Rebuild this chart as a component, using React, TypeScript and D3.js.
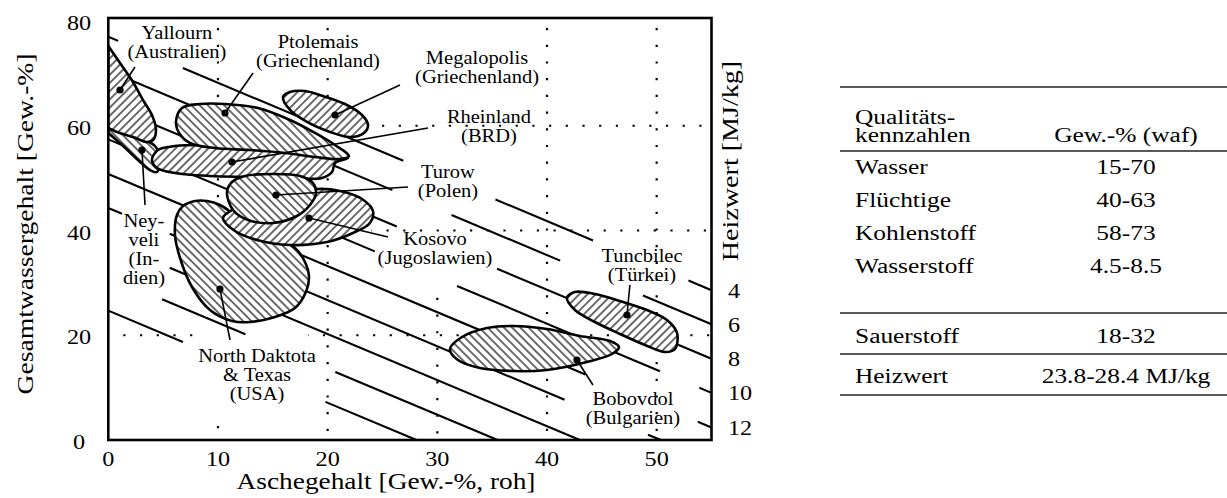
import React from "react";
import * as d3 from "d3";

const FONT = "'Liberation Serif', 'Times New Roman', serif";

// ---------- axes ----------
const ashTicks = [0, 10, 20, 30, 40, 50];
const waterTicks = [0, 20, 40, 60, 80];
const heizwertTicks = [4, 6, 8, 10, 12];

// ---------- Heizwert iso-lines (MJ/kg) ----------
const isoMJ = [4, 6, 8, 10, 12, 14, 16, 18, 20];
// water content [Gew.-%] where each line meets ash = 0
const isoWaterAtZeroAsh = [77.0, 70.5, 63.9, 57.4, 50.8, 44.3, 37.8, 31.2, 24.7];
// slope of the iso-lines (water per ash)
const isoSlope = -0.88;
// visible ash ranges of each line (gaps at the labels)
const isoVisibleAsh = [
  [[0, 0.9], [6.8, 26.9], [35.3, 44.2], [52.9, 55]],
  [[0, 25.9], [31.3, 41.2], [48.75, 55]],
  [[0, 26.3], [35.45, 55]],
  [[0, 24.3], [31.8, 50.3], [53.9, 55]],
  [[0, 43.5], [53.75, 55]],
  [[0, 1.25], [5.6, 41.6], [49.2, 50.4]],
  [[5.6, 43.0]],
  [[4.9, 12.5], [20.7, 35.5]],
  [[0, 6.8], [19.8, 28.1]],
];

// ---------- dotted grid ----------
const gridAsh = [10, 20, 30, 40, 50];
const gridAshWaterRanges = [[[0, 4], [22, 80]], [[0, 80]], [[0, 28.5], [78, 79.2]], [[0, 80]], [[0, 80]]];
const gridWater = [20, 40, 60];
const gridWaterAshRanges = [[[0, 7.8], [18.2, 55]], [[24, 55]], [[17.5, 55]]];

// ---------- deposit regions [ash, water] ----------
const neyveliOutline = [[0, 59.57], [1.52, 58.43], [3.35, 57.28], [4.26, 56.13], [4.71, 53.84], [4.44, 51.17], [3.8, 51.55], [2.71, 53.46], [1.35, 56.13], [0, 58.62]];
const yallournOutline = [[0, 59.57], [0.79, 58.81], [2.25, 57.85], [3.53, 56.9], [4.08, 57.28], [4.35, 59.19], [3.98, 62.05], [3.16, 64.92], [2.25, 68.35], [1.07, 71.98], [0, 75.23]];
const rheinlandOutline = [[3.98, 53.46], [4.53, 55.37], [6.08, 56.13], [9.27, 56.32], [13.83, 55.94], [17.48, 55.18], [20.21, 54.42], [21.85, 53.84], [20.67, 52.89], [20.4, 51.17], [19.48, 50.02], [16.57, 50.02], [12.92, 50.22], [9.27, 50.41], [6.08, 50.98], [4.44, 51.93]];
const ptolemaisOutline = [[6.17, 60.72], [6.72, 63.39], [8.36, 64.15], [10.64, 64.15], [13.65, 63.39], [16.57, 61.1], [18.85, 58.62], [20.67, 56.32], [21.95, 54.23], [21.13, 53.65], [18.85, 54.03], [16.11, 54.8], [12.92, 55.37], [9.73, 55.75], [7.45, 56.71], [6.45, 58.62]];
const megalopolisOutline = [[15.93, 65.49], [16.57, 66.44], [17.93, 66.63], [19.57, 65.68], [21.58, 64.15], [23.13, 62.05], [23.68, 60.14], [23.32, 58.62], [22.04, 57.85], [20.21, 58.81], [18.12, 60.72], [16.57, 63.01]];
const northDakotaOutline = [[6.26, 42.96], [6.81, 44.68], [7.91, 45.63], [9.0, 45.63], [10.18, 44.87], [11.55, 42.96], [13.38, 40.48], [15.2, 38.57], [17.02, 36.66], [17.93, 33.99], [18.3, 31.12], [18.02, 28.26], [17.02, 25.2], [15.2, 23.48], [12.92, 22.53], [11.28, 22.72], [9.27, 24.82], [7.63, 29.21], [6.54, 34.75], [6.08, 39.14]];
const kosovoOutline = [[10.46, 42.39], [11.28, 43.91], [12.92, 44.87], [16.11, 46.59], [19.03, 47.92], [21.13, 47.54], [23.13, 46.01], [24.13, 43.72], [23.86, 41.43], [22.31, 39.52], [19.94, 37.8], [16.57, 37.23], [13.56, 38.19], [11.55, 39.9]];
const turowOutline = [[10.82, 47.35], [11.28, 49.26], [12.46, 50.41], [15.02, 50.79], [17.48, 50.41], [18.66, 49.07], [18.94, 47.16], [18.39, 44.87], [17.2, 42.77], [15.02, 41.43], [12.74, 42.01], [11.37, 43.91]];
const tuncbilecOutline = [[41.82, 27.11], [42.55, 28.26], [44.37, 27.88], [46.65, 26.54], [49.12, 24.82], [50.94, 22.91], [51.86, 20.43], [51.67, 17.37], [50.76, 16.8], [48.93, 18.14], [46.65, 20.24], [44.37, 22.53], [42.55, 24.82]];
const bobovdolOutline = [[31.15, 17.37], [32.25, 19.67], [34.53, 21.38], [36.9, 21.77], [40.0, 21.19], [43.0, 19.86], [45.74, 18.9], [46.56, 17.76], [45.92, 16.42], [43.64, 14.89], [40.0, 13.37], [36.9, 13.17], [33.89, 13.75], [31.88, 15.27]];

// drawing order, hatch direction, whether the region rests on the water axis
const regions = [
  { outline: neyveliOutline, hatch: "B", onAxis: true },
  { outline: yallournOutline, hatch: "F", onAxis: true },
  { outline: rheinlandOutline, hatch: "F", onAxis: false },
  { outline: ptolemaisOutline, hatch: "B", onAxis: false },
  { outline: megalopolisOutline, hatch: "F", onAxis: false },
  { outline: northDakotaOutline, hatch: "B", onAxis: false },
  { outline: kosovoOutline, hatch: "F", onAxis: false },
  { outline: turowOutline, hatch: "B", onAxis: false },
  { outline: tuncbilecOutline, hatch: "F", onAxis: false },
  { outline: bobovdolOutline, hatch: "B", onAxis: false },
];

// ---------- labels: text, anchor [ash, water], leader start, marked point ----------
const annotations = [
  { lines: ["Yallourn", "(Australien)"], at: [6.26, 76.56], from: [2.43, 71.22], dot: [1.07, 66.83] },
  { lines: ["Ptolemais", "(Griechenland)"], at: [19.12, 74.85], from: [13.2, 70.07], dot: [10.64, 62.43] },
  { lines: ["Megalopolis", "(Griechenland)"], at: [33.62, 71.79], from: [26.6, 67.78], dot: [20.67, 62.05] },
  { lines: ["Rheinland", "(BRD)"], at: [34.71, 60.53], from: [29.15, 59.57], dot: [11.28, 53.08] },
  { lines: ["Turow", "(Polen)"], at: [30.97, 50.02], from: [27.33, 48.31], dot: [15.29, 46.78] },
  { lines: ["Kosovo", "(Jugoslawien)"], at: [29.79, 37.23], from: [25.5, 38.76], dot: [18.3, 42.39] },
  { lines: ["Tuncbilec", "(Türkei)"], at: [48.66, 33.99], from: [47.56, 29.59], dot: [47.29, 23.87] },
  { lines: ["Bobovdol", "(Bulgarien)"], at: [47.84, 6.68], from: [44.19, 10.5], dot: [42.73, 15.27] },
  { lines: ["Ney-", "veli", "(In-", "dien)"], at: [3.25, 40.67], from: [3.35, 44.87], dot: [3.07, 55.37] },
  { lines: ["North Daktota", "& Texas", "(USA)"], at: [13.56, 14.89], from: [11.1, 19.09], dot: [10.18, 28.83] },
];

// ---------- table ----------
const tableHeaderLeft = ["Qualitäts-", "kennzahlen"];
const tableHeaderRight = "Gew.-% (waf)";
const tableNames = ["Wasser", "Flüchtige", "Kohlenstoff", "Wasserstoff", "Sauerstoff", "Heizwert"];
const tableValues = ["15-70", "40-63", "58-73", "4.5-8.5", "18-32", "23.8-28.4 MJ/kg"];

// ---------- layout ----------
const PLOT = { left: 108.3, right: 711.5, top: 18, bottom: 440 };
const TABLE = { x0: 840, x1: 1227, textX: 855, valueX: 1126, rules: [87, 151, 313, 354, 395], headerBaselines: [124, 141.5], rowBaselines: [174, 207, 240, 273, 343, 383] };
const LABEL_SIZE = 19.5;
const LABEL_SX = 1.05;
const LABEL_LEAD = 19;
const TICK_SIZE = 22;
const TICK_SX = 1.1;
const TITLE_SIZE = 24;
const TABLE_SIZE = 20;
const TABLE_SX = 1.27;

function Txt(props: { x: number; y: number; size: number; anchor?: string; sx?: number; rot?: number; children: React.ReactNode }) {
  const { x, y, size, anchor = "middle", sx = 1, rot = 0, children } = props;
  return (
    <text
      transform={`translate(${x},${y}) rotate(${rot}) scale(${sx},1)`}
      fontSize={size}
      textAnchor={anchor as any}
      fontFamily={FONT}
      fill="#000"
    >
      {children}
    </text>
  );
}

export default function App() {
  const x = d3.scaleLinear().domain([0, 55]).range([PLOT.left, PLOT.right]);
  const y = d3.scaleLinear().domain([0, 80]).range([PLOT.bottom, 21]);

  const closed = d3
    .line<number[]>()
    .x((d) => x(d[0]))
    .y((d) => y(d[1]))
    .curve(d3.curveCatmullRomClosed.alpha(0.5));
  const open = d3
    .line<number[]>()
    .x((d) => x(d[0]))
    .y((d) => y(d[1]))
    .curve(d3.curveCatmullRom.alpha(0.5));

  const regionPath = (r: (typeof regions)[number]) => (r.onAxis ? (open(r.outline) as string) + "Z" : (closed(r.outline) as string));

  const isoY = (i: number, a: number) => isoWaterAtZeroAsh[i] + isoSlope * a;

  return (
    <svg width={1227} height={498} style={{ position: "absolute", left: 0, top: 0, background: "#fff" }}>
      <defs>
        <pattern id="hatchF" patternUnits="userSpaceOnUse" width={5.8} height={5.8} patternTransform="rotate(45)">
          <line x1={2.9} y1={-1} x2={2.9} y2={7} stroke="#000" strokeWidth={1.15} />
        </pattern>
        <pattern id="hatchB" patternUnits="userSpaceOnUse" width={5.8} height={5.8} patternTransform="rotate(-45)">
          <line x1={2.9} y1={-1} x2={2.9} y2={7} stroke="#000" strokeWidth={1.15} />
        </pattern>
      </defs>
      <rect x={0} y={0} width={1227} height={498} fill="#fff" />

      {/* dotted grid */}
      <g stroke="#000" strokeWidth={2.2} strokeDasharray="2.2 14.5" fill="none">
        {gridAsh.map((a, i) =>
          gridAshWaterRanges[i].map((r, j) => (
            <line key={`va${i}-${j}`} x1={x(a)} x2={x(a)} y1={y(r[1])} y2={y(r[0])} strokeDashoffset={-7} />
          ))
        )}
        {gridWater.map((w, i) =>
          gridWaterAshRanges[i].map((r, j) => (
            <line key={`hw${i}-${j}`} x1={x(r[0])} x2={x(r[1])} y1={y(w)} y2={y(w)} strokeDashoffset={-15} />
          ))
        )}
      </g>

      {/* Heizwert iso-lines */}
      <g stroke="#000" strokeWidth={2.1} strokeLinecap="butt">
        {isoMJ.map((mj, i) =>
          isoVisibleAsh[i].map((r, j) => (
            <line key={`iso${mj}-${j}`} x1={x(r[0])} y1={y(isoY(i, r[0]))} x2={x(r[1])} y2={y(Math.max(0, isoY(i, r[1])))} />
          ))
        )}
      </g>

      {/* deposit regions */}
      {regions.map((r, i) => {
        const d = regionPath(r);
        return (
          <g key={`reg${i}`}>
            <path d={d} fill="#fff" />
            <path d={d} fill={`url(#hatch${r.hatch})`} />
            <path d={d} fill="none" stroke="#000" strokeWidth={2.6} strokeLinejoin="round" />
          </g>
        );
      })}

      {/* leaders and points */}
      {annotations.map((a, i) => (
        <g key={`ann${i}`}>
          <line x1={x(a.from[0])} y1={y(a.from[1])} x2={x(a.dot[0])} y2={y(a.dot[1])} stroke="#000" strokeWidth={1.6} />
          <circle cx={x(a.dot[0])} cy={y(a.dot[1])} r={3.6} fill="#000" />
        </g>
      ))}

      {/* labels */}
      {annotations.map((a, i) =>
        a.lines.map((t, j) => (
          <Txt key={`lab${i}-${j}`} x={x(a.at[0])} y={y(a.at[1]) + j * LABEL_LEAD} size={LABEL_SIZE} sx={LABEL_SX}>
            {t}
          </Txt>
        ))
      )}

      {/* frame */}
      <rect
        x={PLOT.left}
        y={PLOT.top}
        width={PLOT.right - PLOT.left}
        height={PLOT.bottom - PLOT.top}
        fill="none"
        stroke="#000"
        strokeWidth={2.6}
      />

      {/* tick labels */}
      {ashTicks.map((t) => (
        <Txt key={`xt${t}`} x={x(t)} y={466} size={TICK_SIZE} sx={TICK_SX}>
          {String(t)}
        </Txt>
      ))}
      {waterTicks.map((t) => (
        <Txt key={`yt${t}`} x={79} y={y(t) + 9} size={TICK_SIZE} sx={TICK_SX}>
          {String(t)}
        </Txt>
      ))}
      {heizwertTicks.map((t) => {
        const i = isoMJ.indexOf(t);
        return (
          <Txt key={`rt${t}`} x={728} y={y(isoY(i, 55)) + 7.5} size={TICK_SIZE} anchor="start" sx={TICK_SX}>
            {String(t)}
          </Txt>
        );
      })}

      {/* axis titles */}
      <Txt x={386} y={489} size={TITLE_SIZE} sx={1.14}>
        Aschegehalt [Gew.-%, roh]
      </Txt>
      <Txt x={33} y={224} size={TITLE_SIZE} rot={-90} sx={1.15}>
        Gesamtwassergehalt [Gew.-%]
      </Txt>
      <Txt x={738} y={161} size={TITLE_SIZE} rot={-90} sx={1.17}>
        Heizwert [MJ/kg]
      </Txt>

      {/* table */}
      <g stroke="#222" strokeWidth={1.4}>
        {TABLE.rules.map((r, i) => (
          <line key={`rule${i}`} x1={TABLE.x0} x2={TABLE.x1} y1={r} y2={r} />
        ))}
      </g>
      {tableHeaderLeft.map((t, i) => (
        <Txt key={`th${i}`} x={TABLE.textX} y={TABLE.headerBaselines[i]} size={TABLE_SIZE} anchor="start" sx={TABLE_SX}>
          {t}
        </Txt>
      ))}
      <Txt x={TABLE.valueX} y={TABLE.headerBaselines[1]} size={TABLE_SIZE} sx={TABLE_SX}>
        {tableHeaderRight}
      </Txt>
      {tableNames.map((n, i) => (
        <g key={`row${i}`}>
          <Txt x={TABLE.textX} y={TABLE.rowBaselines[i]} size={TABLE_SIZE} anchor="start" sx={TABLE_SX}>
            {n}
          </Txt>
          <Txt x={TABLE.valueX} y={TABLE.rowBaselines[i]} size={TABLE_SIZE} sx={TABLE_SX}>
            {tableValues[i]}
          </Txt>
        </g>
      ))}
    </svg>
  );
}
